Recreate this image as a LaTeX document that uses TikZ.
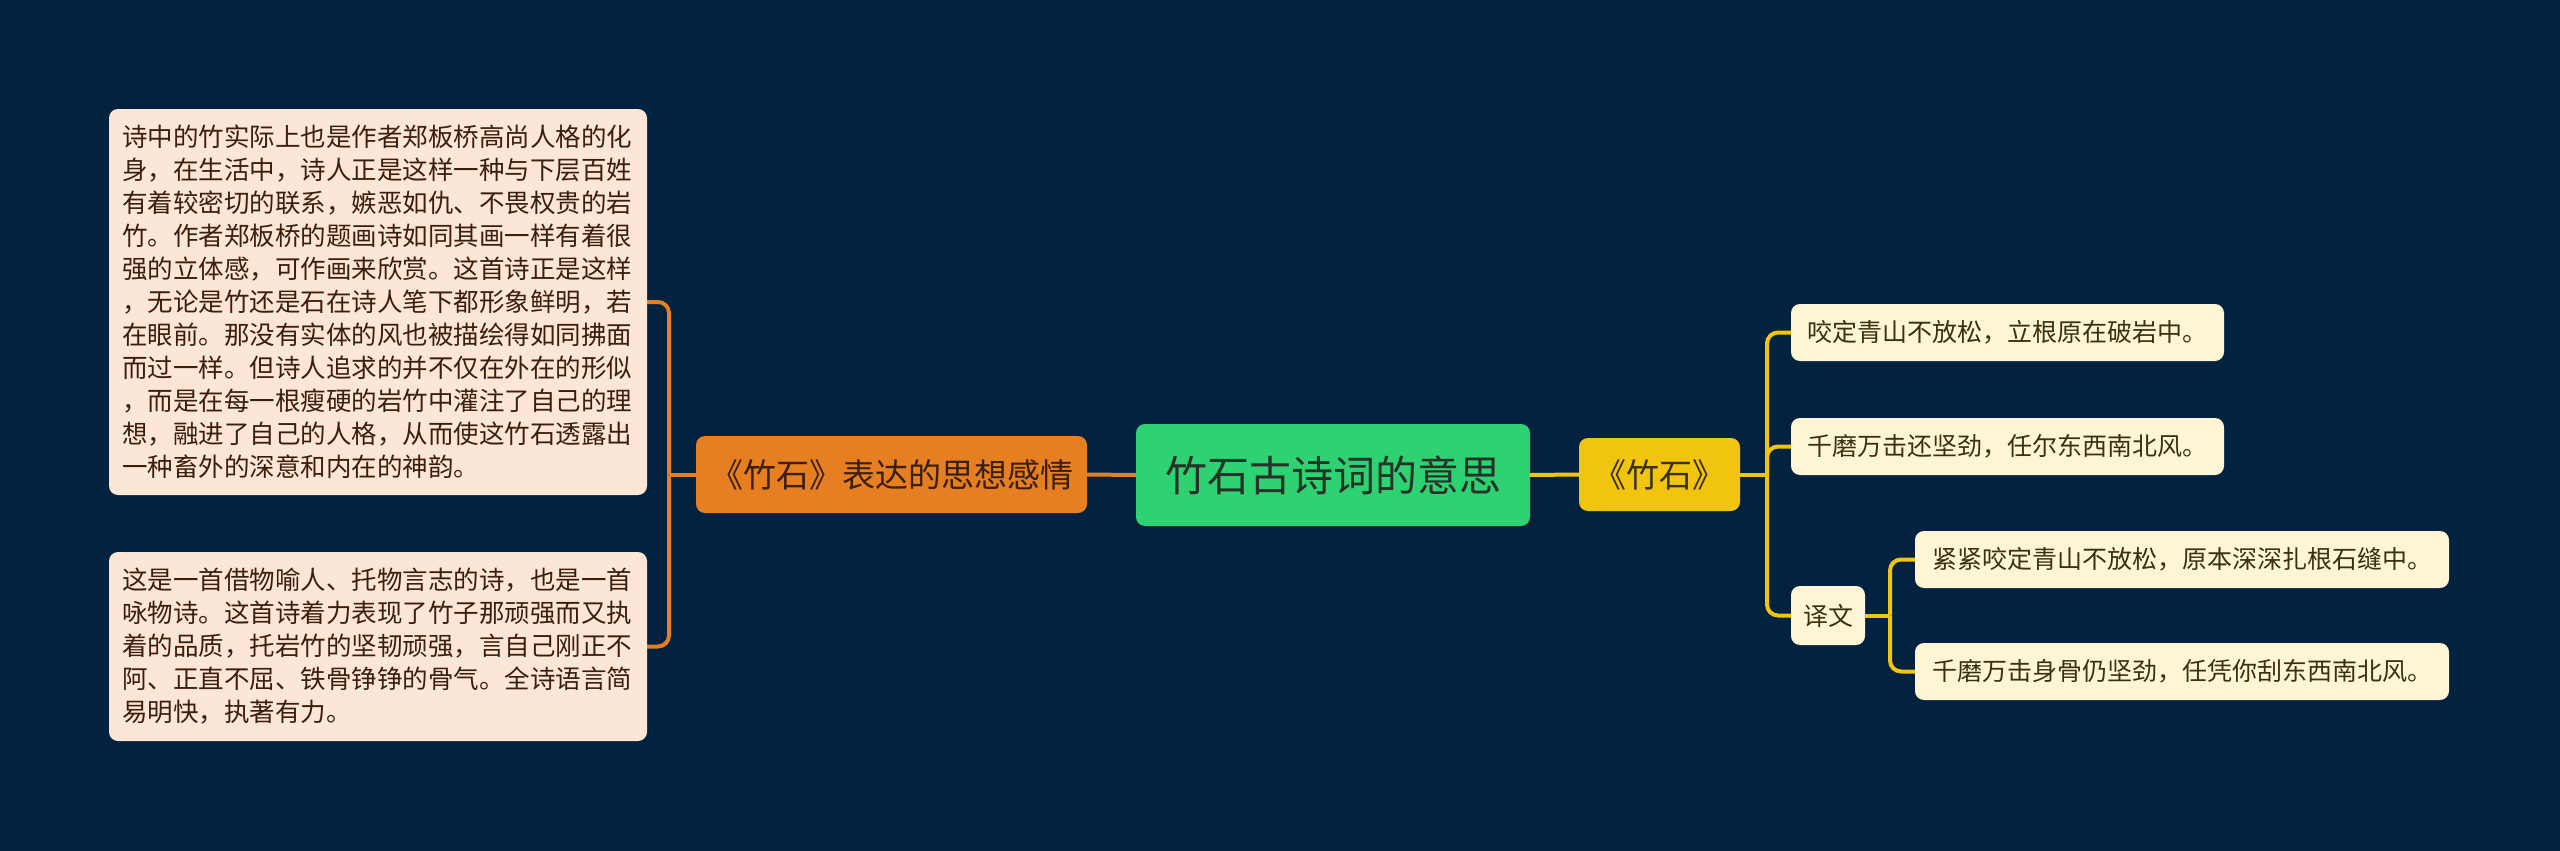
\documentclass[tikz,border=0pt]{standalone}
\usepackage{fontspec}
\setmainfont{Noto Sans CJK SC}
\definecolor{bg}{HTML}{03223F}
\definecolor{peach}{HTML}{FCE6D6}
\definecolor{cream}{HTML}{FDF5D6}
\definecolor{orangeC}{HTML}{E67E22}
\definecolor{greenC}{HTML}{2FD272}
\definecolor{yellowC}{HTML}{F1C40F}
\definecolor{brownT}{HTML}{3A1F0C}
\definecolor{darkT}{HTML}{3A3012}
\definecolor{rootT}{HTML}{263228}
\tikzset{
  base/.style={rounded corners=9pt, inner sep=0pt, anchor=center},
  bigbox/.style={base, fill=peach, text=brownT, align=left, text width=512pt, minimum width=538pt,
     font=\fontsize{25.5}{33}\selectfont},
  leafbox/.style={base, fill=cream, text=darkT, minimum height=57pt, font=\fontsize{25}{30}\selectfont},
  oline/.style={draw=orangeC, line width=4pt},
  yline/.style={draw=yellowC, line width=4pt},
}
\begin{document}
\begin{tikzpicture}[x=1pt,y=-1pt]
\useasboundingbox[fill=bg] (0,0) rectangle (2560,851);

\node[bigbox, minimum height=386pt] (box1) at (378,302) {诗中的竹实际上也是作者郑板桥高尚人格的化\\身，在生活中，诗人正是这样一种与下层百姓\\有着较密切的联系，嫉恶如仇、不畏权贵的岩\\竹。作者郑板桥的题画诗如同其画一样有着很\\强的立体感，可作画来欣赏。这首诗正是这样\\，无论是竹还是石在诗人笔下都形象鲜明，若\\在眼前。那没有实体的风也被描绘得如同拂面\\而过一样。但诗人追求的并不仅在外在的形似\\，而是在每一根瘦硬的岩竹中灌注了自己的理\\想，融进了自己的人格，从而使这竹石透露出\\一种畜外的深意和内在的神韵。};
\node[bigbox, minimum height=189pt] (box2) at (378,646.5) {这是一首借物喻人、托物言志的诗，也是一首\\咏物诗。这首诗着力表现了竹子那顽强而又执\\着的品质，托岩竹的坚韧顽强，言自己刚正不\\阿、正直不屈、铁骨铮铮的骨气。全诗语言简\\易明快，执著有力。};

\node[base, fill=orangeC, text=brownT, minimum width=391pt, minimum height=77pt, font=\fontsize{33}{38}\selectfont] (orange) at (891.5,474.5) {《竹石》表达的思想感情};
\node[base, fill=greenC, text=rootT, minimum width=394pt, minimum height=102pt, font=\fontsize{42}{48}\selectfont] (root) at (1333,475) {竹石古诗词的意思};
\node[base, fill=yellowC, text=darkT, minimum width=161pt, minimum height=73pt, font=\fontsize{33}{38}\selectfont] (yellow) at (1659.5,474.5) {《竹石》};

\node[leafbox, minimum width=433pt] (leaf1) at (2007.5,332.5) {咬定青山不放松，立根原在破岩中。};
\node[leafbox, minimum width=433pt] (leaf2) at (2007.5,446.5) {千磨万击还坚劲，任尔东西南北风。};
\node[leafbox, minimum width=74pt, minimum height=59pt] (yiwen) at (1828,615.5) {译文};
\node[leafbox, minimum width=534pt] (leaf3) at (2182,559.5) {紧紧咬定青山不放松，原本深深扎根石缝中。};
\node[leafbox, minimum width=534pt] (leaf4) at (2182,671.5) {千磨万击身骨仍坚劲，任凭你刮东西南北风。};

\coordinate (lj) at (669,474.5);
\coordinate (rj) at (1767,474.5);
\coordinate (yj) at (1890,615.5);

\draw[oline] (root.west) -- (orange.east);
\draw[oline] (orange.west) -- (lj);
\draw[oline, rounded corners=11pt] (lj) |- (box1.east);
\draw[oline, rounded corners=11pt] (lj) |- (box2.east);

\draw[yline] (root.east) -- (yellow.west);
\draw[yline] (yellow.east) -- (rj);
\draw[yline, rounded corners=11pt] (rj) |- (leaf1.west);
\draw[yline, rounded corners=11pt] (rj) |- (leaf2.west);
\draw[yline, rounded corners=11pt] (rj) |- (yiwen.west);
\draw[yline] (yiwen.east) -- (yj);
\draw[yline, rounded corners=11pt] (yj) |- (leaf3.west);
\draw[yline, rounded corners=11pt] (yj) |- (leaf4.west);
\end{tikzpicture}
\end{document}
